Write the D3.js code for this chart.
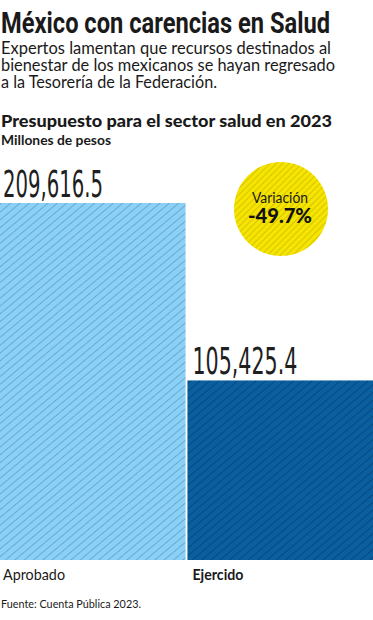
<!DOCTYPE html>
<html><head><meta charset="utf-8">
<script src="https://cdn.jsdelivr.net/npm/d3@7/dist/d3.min.js"></script>
<style>html,body{margin:0;padding:0;background:#fff;}svg{display:block;}</style>
</head><body>
<script>
const categories = ["Aprobado", "Ejercido"];
const values = [209616.5, 105425.4];
const valueLabels = ["209,616.5", "105,425.4"];
const variationLabel = "Variación";
const variationValue = "-49.7%";

const W = 373, H = 620;
const svg = d3.select("body").append("svg").attr("width", W).attr("height", H);

const defs = svg.append("defs");
function hatch(id, bg, line, size, angle, sw) {
  const p = defs.append("pattern").attr("id", id).attr("patternUnits", "userSpaceOnUse")
    .attr("width", size).attr("height", size).attr("patternTransform", "rotate(" + angle + ")");
  p.append("rect").attr("width", size).attr("height", size).attr("fill", bg);
  p.append("line").attr("x1", 0.5).attr("y1", 0).attr("x2", 0.5).attr("y2", size)
    .attr("stroke", line).attr("stroke-width", sw);
}
hatch("h0", "#8dd0f5", "#62acd9", 6, 50, 1);
hatch("h1", "#0a5f9f", "#074a80", 6, 50, 1);
hatch("hy", "#f6e500", "#d6c400", 4.5, 45, 1);
const fills = ["url(#h0)", "url(#h1)"];

// Header texts
svg.append("text").attr("x", 1).attr("y", 33).text("México con carencias en Salud")
  .attr("font-family", "'Liberation Sans Narrow','Roboto','DejaVu Sans Condensed',sans-serif")
  .attr("font-size", 29).attr("font-weight", 700).attr("fill", "#1a1a1a")
  .attr("textLength", 329).attr("lengthAdjust", "spacingAndGlyphs");

const sub = ["Expertos lamentan que recursos destinados al",
  "bienestar de los mexicanos se hayan regresado",
  "a la Tesorería de la Federación."];
const subLen = [330, 334, 216];
sub.forEach((s, i) => {
  svg.append("text").attr("x", 1).attr("y", 54 + i * 17).text(s)
    .attr("font-family", "Lato, sans-serif").attr("font-size", 16.5).attr("fill", "#1a1a1a")
    .attr("textLength", subLen[i]).attr("lengthAdjust", "spacingAndGlyphs");
});

svg.append("text").attr("x", 1).attr("y", 127).text("Presupuesto para el sector salud en 2023")
  .attr("font-family", "Lato, sans-serif").attr("font-size", 17).attr("font-weight", 900).attr("fill", "#1a1a1a")
  .attr("textLength", 331).attr("lengthAdjust", "spacingAndGlyphs");
svg.append("text").attr("x", 1).attr("y", 145).text("Millones de pesos")
  .attr("font-family", "Lato, sans-serif").attr("font-size", 14).attr("font-weight", 700).attr("fill", "#1a1a1a")
  .attr("textLength", 110).attr("lengthAdjust", "spacingAndGlyphs");

// Scales
const x = d3.scaleBand().domain(categories).range([0, W]).paddingInner(0.01).paddingOuter(0);
const y = d3.scaleLinear().domain([0, values[0]]).range([560, 203]);

svg.selectAll("rect.bar").data(values).enter().append("rect").attr("class", "bar")
  .attr("x", (d, i) => x(categories[i]))
  .attr("y", d => y(d))
  .attr("width", x.bandwidth())
  .attr("height", d => y(0) - y(d))
  .attr("fill", (d, i) => fills[i]);

const valLen = [100, 105];
svg.selectAll("text.val").data(values).enter().append("text").attr("class", "val")
  .attr("x", (d, i) => x(categories[i]) + (i === 0 ? 3 : 5))
  .attr("y", d => y(d) - 6)
  .text((d, i) => valueLabels[i])
  .attr("font-family", "'Liberation Sans Narrow','DejaVu Sans Condensed',sans-serif")
  .attr("font-size", 37).attr("fill", "#1f1f1f")
  .attr("textLength", (d, i) => valLen[i]).attr("lengthAdjust", "spacingAndGlyphs");

const catLen = [62, 51];
svg.selectAll("text.cat").data(categories).enter().append("text").attr("class", "cat")
  .attr("x", (d, i) => x(d) + (i === 0 ? 3 : 5))
  .attr("y", 580)
  .text(d => d)
  .attr("font-family", "Lato, sans-serif").attr("font-size", 15)
  .attr("font-weight", (d, i) => i === 1 ? 700 : 400).attr("fill", "#1a1a1a")
  .attr("textLength", (d, i) => catLen[i]).attr("lengthAdjust", "spacingAndGlyphs");

// Variation circle
svg.append("circle").attr("cx", 281).attr("cy", 209).attr("r", 47).attr("fill", "url(#hy)");
svg.append("text").attr("x", 280).attr("y", 203).attr("text-anchor", "middle").text(variationLabel)
  .attr("font-family", "Lato, sans-serif").attr("font-size", 15.5).attr("fill", "#1a1a1a")
  .attr("textLength", 56).attr("lengthAdjust", "spacingAndGlyphs");
svg.append("text").attr("x", 280).attr("y", 223).attr("text-anchor", "middle").text(variationValue)
  .attr("font-family", "Lato, sans-serif").attr("font-size", 21).attr("font-weight", 900).attr("fill", "#111")
  .attr("textLength", 64).attr("lengthAdjust", "spacingAndGlyphs");

svg.append("text").attr("x", 1).attr("y", 608).text("Fuente: Cuenta Pública 2023.")
  .attr("font-family", "Lato, sans-serif").attr("font-size", 11.5).attr("fill", "#1a1a1a")
  .attr("textLength", 140).attr("lengthAdjust", "spacingAndGlyphs");
</script>
</body></html>
